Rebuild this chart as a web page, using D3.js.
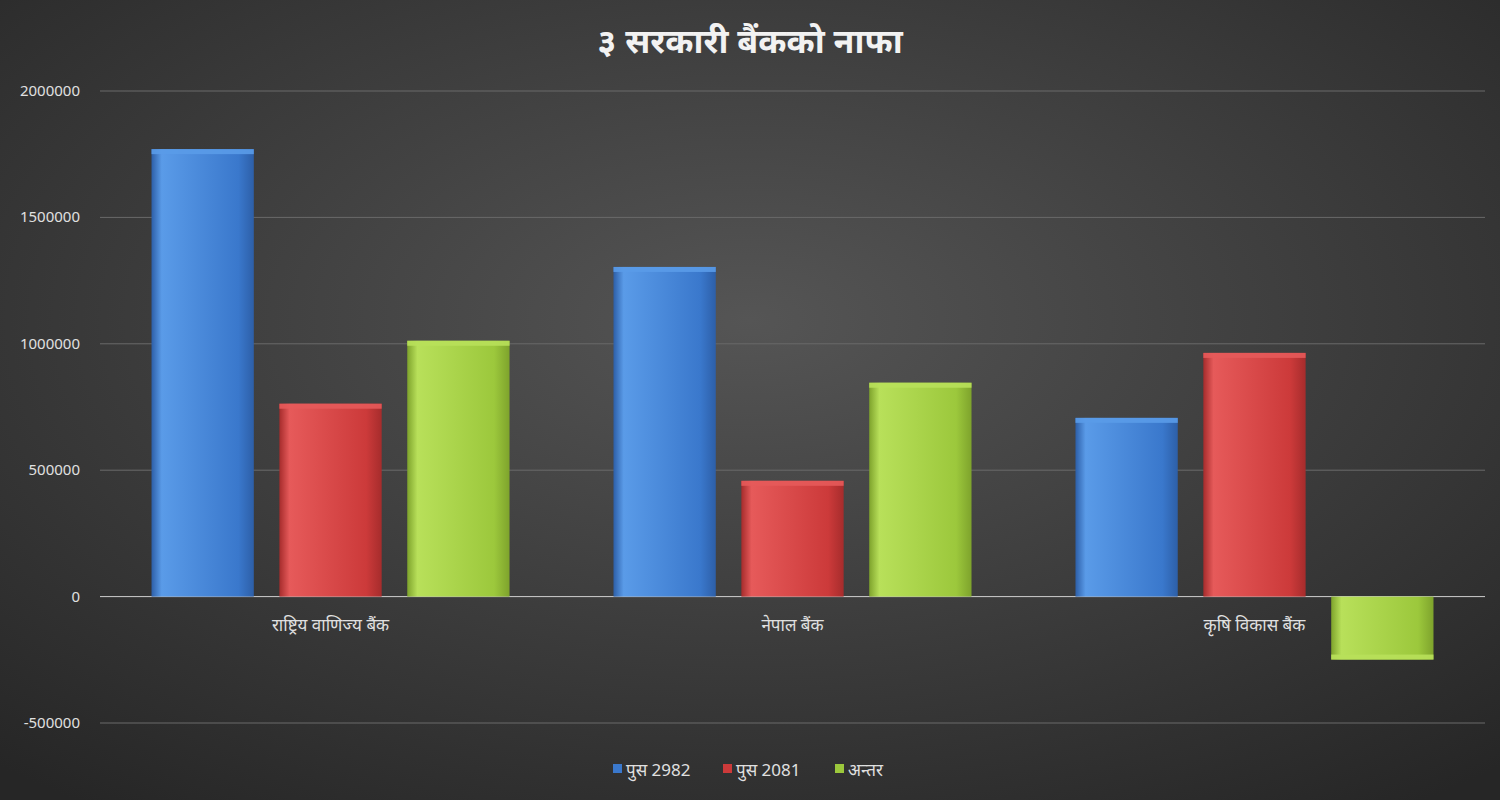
<!DOCTYPE html>
<html><head><meta charset="utf-8">
<script src="https://cdn.jsdelivr.net/npm/d3@7"></script>
<style>body{margin:0;background:#333;}svg{display:block;font-family:"Noto Sans","Noto Sans Devanagari","Liberation Sans",sans-serif;}</style>
</head><body><svg id="c" width="1500" height="800"></svg>
<script>
const categories = ["राष्ट्रिय वाणिज्य बैंक", "नेपाल बैंक", "कृषि विकास बैंक"];
const seriesNames = ["पुस 2982", "पुस 2081", "अन्तर"];
const pus2982 = [1770000, 1304000, 707000];
const pus2081 = [763000, 458000, 964000];
const antar = [1012000, 846000, -249000];
const yTicks = [-500000, 0, 500000, 1000000, 1500000, 2000000];
const seriesValues = [pus2982, pus2081, antar];
const colors = [["#5a9be8","#3a78cc","#2d5fa8"],["#e65a5a","#cc3a3a","#a62c2c"],["#b8e05a","#9cc83c","#7ea32c"]];

const svg = d3.select("#c");
const defs = svg.append("defs");
const bg = defs.append("radialGradient").attr("id","bg").attr("cx","50%").attr("cy","40%").attr("r","75%");
bg.append("stop").attr("offset","0%").attr("stop-color","#555555");
bg.append("stop").attr("offset","100%").attr("stop-color","#262626");
svg.append("rect").attr("width",1500).attr("height",800).attr("fill","url(#bg)");
colors.forEach((c,i)=>{
  const g = defs.append("linearGradient").attr("id","g"+i).attr("x1","0").attr("x2","1");
  g.append("stop").attr("offset","0%").attr("stop-color",c[2]);
  g.append("stop").attr("offset","10%").attr("stop-color",c[0]);
  g.append("stop").attr("offset","85%").attr("stop-color",c[1]);
  g.append("stop").attr("offset","100%").attr("stop-color",c[2]);
});

const L=100,R=1485;
const y = d3.scaleLinear().domain([-500000,2000000]).range([723,91]);
const x0 = d3.scaleBand().domain(categories).range([L,R]).paddingInner(0.225).paddingOuter(0.1115);
const x1 = d3.scaleBand().domain(seriesNames).range([0,x0.bandwidth()]).paddingInner(0.2);

svg.append("g").selectAll("line").data(yTicks).join("line")
  .attr("x1",L).attr("x2",R).attr("y1",d=>y(d)).attr("y2",d=>y(d))
  .attr("stroke",d=>d===0?"#cfcfcf":"#6a6a6a").attr("stroke-width",1);
svg.append("g").selectAll("text").data(yTicks).join("text")
  .attr("x",80).attr("y",d=>y(d)+5).attr("text-anchor","end")
  .attr("fill","#e0e0e0").attr("font-size",15).text(d=>d);

categories.forEach((c,ci)=>{
  seriesNames.forEach((s,si)=>{
    const v = seriesValues[si][ci];
    const bx = x0(c)+x1(s), bw = x1.bandwidth();
    const top = y(Math.max(0,v)), h = Math.abs(y(v)-y(0));
    svg.append("rect").attr("x",bx).attr("y",top).attr("width",bw).attr("height",h)
      .attr("fill","url(#g"+si+")");
    svg.append("rect").attr("x",bx).attr("y",v>=0?top:top+h-5).attr("width",bw).attr("height",5)
      .attr("fill",colors[si][0]).attr("opacity",0.9);
  });
});
svg.append("g").selectAll("text").data(categories).join("text")
  .attr("x",d=>x0(d)+x0.bandwidth()/2).attr("y",631).attr("text-anchor","middle")
  .attr("fill","#e0e0e0").attr("font-size",17).text(d=>d);

svg.append("text").attr("x",750).attr("y",53).attr("text-anchor","middle")
  .attr("fill","#f2f2f2").attr("font-size",34).attr("font-weight","bold").text("३ सरकारी बैंकको नाफा");

const lx=[613,723,835];
seriesNames.forEach((s,i)=>{
  svg.append("rect").attr("x",lx[i]).attr("y",764).attr("width",9).attr("height",9).attr("fill",colors[i][1]);
  svg.append("text").attr("x",lx[i]+13).attr("y",776).attr("fill","#e0e0e0").attr("font-size",17).text(s);
});
</script></body></html>
